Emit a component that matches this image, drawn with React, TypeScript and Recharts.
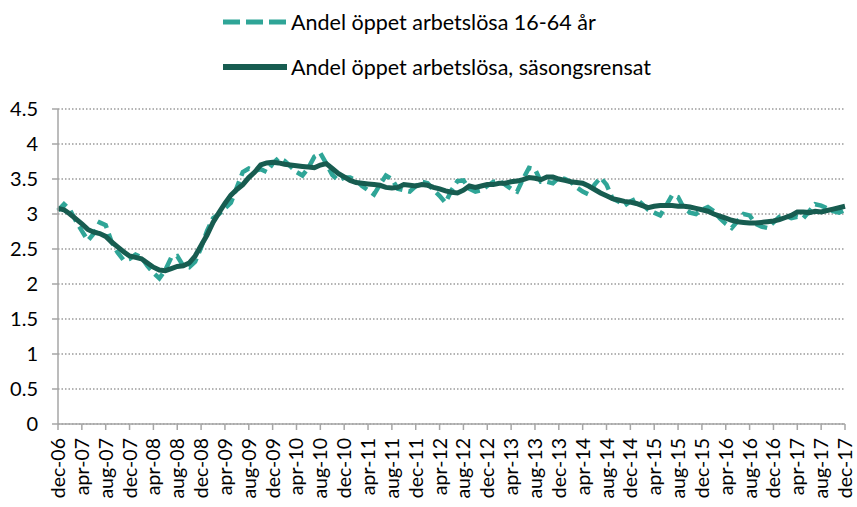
import { LineChart, Line, XAxis, YAxis, CartesianGrid } from 'recharts';

const monthNames = ['jan', 'feb', 'mar', 'apr', 'maj', 'jun', 'jul', 'aug', 'sep', 'okt', 'nov', 'dec'];

// dec-06 .. dec-17, monthly
const categories = Array.from({ length: 133 }, (_, i) => {
    const m = (i + 11) % 12;
    const y = 2006 + Math.floor((i + 11) / 12);
    return `${monthNames[m]}-${String(y).slice(2)}`;
});

const rawShare = [
    3.05, 3.14, 3.06, 2.90, 2.76, 2.62, 2.72, 2.88, 2.84, 2.60, 2.45, 2.34,
    2.36, 2.42, 2.38, 2.26, 2.16, 2.08, 2.20, 2.38, 2.40, 2.26, 2.24, 2.32,
    2.52, 2.76, 2.94, 3.00, 3.08, 3.16, 3.38, 3.60, 3.65, 3.62, 3.64, 3.60,
    3.72, 3.80, 3.76, 3.68, 3.60, 3.55, 3.66, 3.82, 3.87, 3.72, 3.56, 3.48,
    3.52, 3.52, 3.48, 3.40, 3.34, 3.28, 3.42, 3.55, 3.50, 3.36, 3.34, 3.32,
    3.40, 3.46, 3.44, 3.34, 3.26, 3.16, 3.34, 3.47, 3.48, 3.36, 3.32, 3.34,
    3.40, 3.46, 3.47, 3.42, 3.36, 3.32, 3.50, 3.66, 3.64, 3.46, 3.46, 3.44,
    3.52, 3.50, 3.46, 3.38, 3.32, 3.28, 3.42, 3.52, 3.42, 3.22, 3.18, 3.12,
    3.18, 3.22, 3.14, 3.06, 3.02, 2.98, 3.12, 3.27, 3.24, 3.08, 3.02, 3.00,
    3.06, 3.10, 3.04, 2.94, 2.86, 2.80, 2.90, 3.00, 2.98, 2.86, 2.82, 2.80,
    2.88, 2.96, 2.98, 2.94, 2.96, 2.94, 3.04, 3.14, 3.12, 3.08, 3.04, 3.02,
    3.06,
];

const seasonAdj = [
    3.08, 3.06, 3.00, 2.93, 2.86, 2.78, 2.74, 2.72, 2.68, 2.60, 2.53, 2.46,
    2.40, 2.38, 2.36, 2.30, 2.24, 2.20, 2.19, 2.22, 2.25, 2.26, 2.30, 2.40,
    2.55, 2.70, 2.88, 3.02, 3.15, 3.27, 3.35, 3.42, 3.52, 3.60, 3.70, 3.73,
    3.74, 3.73, 3.71, 3.70, 3.69, 3.68, 3.67, 3.66, 3.70, 3.72, 3.65, 3.58,
    3.53, 3.48, 3.45, 3.44, 3.43, 3.42, 3.41, 3.38, 3.37, 3.38, 3.42, 3.41,
    3.40, 3.42, 3.41, 3.38, 3.36, 3.33, 3.31, 3.30, 3.34, 3.40, 3.38, 3.40,
    3.42, 3.42, 3.44, 3.44, 3.46, 3.47, 3.49, 3.52, 3.51, 3.49, 3.53, 3.53,
    3.50, 3.48, 3.46, 3.45, 3.44, 3.40, 3.35, 3.30, 3.26, 3.22, 3.20, 3.18,
    3.17, 3.15, 3.12, 3.09, 3.11, 3.12, 3.12, 3.12, 3.11, 3.11, 3.10, 3.08,
    3.06, 3.04, 3.00, 2.97, 2.94, 2.91, 2.89, 2.88, 2.87, 2.87, 2.88, 2.89,
    2.90, 2.92, 2.95, 2.98, 3.03, 3.03, 3.02, 3.04, 3.03, 3.05, 3.07, 3.09,
    3.11,
];

const yTicks = [0, 0.5, 1, 1.5, 2, 2.5, 3, 3.5, 4, 4.5];

const seriesNames = ['Andel öppet arbetslösa 16-64 år', 'Andel öppet arbetslösa, säsongsrensat'];

const RAW_COLOR = '#2fa597';
const SA_COLOR = '#175c50';
const FONT = 'Lato, "Noto Sans", sans-serif';

const data = categories.map((label, i) => ({ label, raw: rawShare[i], sa: seasonAdj[i] }));

function XTick({ x, y, payload }: any) {
    return (
        <text x={0} y={0} transform={`translate(${x + 7},${y + 6}) rotate(-90)`} textAnchor="end" fill="#000" fontSize={19.5} fontFamily={FONT}>
            {payload.value}
        </text>
    );
}

function LegendRow({ top, dashed, color, text }: { top: number; dashed: boolean; color: string; text: string }) {
    return (
        <div style={{ position: 'absolute', left: 223, top, height: 26, display: 'flex', alignItems: 'center' }}>
            <svg width={64} height={8}>
                <line x1={0} y1={4} x2={64} y2={4} stroke={color} strokeWidth={dashed ? 5 : 6} strokeDasharray={dashed ? '17 6' : undefined} />
            </svg>
            <span style={{ marginLeft: 4, fontFamily: FONT, fontSize: 21.5, color: '#000', whiteSpace: 'nowrap' }}>{text}</span>
        </div>
    );
}

export default function App() {
    return (
        <div style={{ position: 'absolute', left: 0, top: 0, width: 857, height: 507, background: '#fff' }}>
            <LegendRow top={9} dashed color={RAW_COLOR} text={seriesNames[0]} />
            <LegendRow top={54} dashed={false} color={SA_COLOR} text={seriesNames[1]} />
            <LineChart width={857} height={507} data={data} margin={{ top: 109, right: 12, left: 0, bottom: 0 }}>
                <CartesianGrid vertical={false} stroke="#9a9a9a" strokeWidth={1.5} strokeDasharray="1.5 2" />
                <XAxis dataKey="label" interval={3} height={83} tickSize={6} tickMargin={2} tick={<XTick />} axisLine={{ stroke: '#a6a6a6', strokeWidth: 1.5 }} tickLine={{ stroke: '#a6a6a6', strokeWidth: 1.5 }} />
                <YAxis domain={[0, 4.5]} ticks={yTicks} width={58} tickSize={6} tickMargin={14} axisLine={{ stroke: '#a6a6a6', strokeWidth: 1.5 }} tickLine={{ stroke: '#a6a6a6', strokeWidth: 1.5 }} tick={{ fill: '#000', fontSize: 20, fontFamily: FONT }} />
                <Line type="linear" dataKey="raw" name={seriesNames[0]} stroke={RAW_COLOR} strokeWidth={4.5} strokeDasharray="12 6" dot={false} isAnimationActive={false} />
                <Line type="linear" dataKey="sa" name={seriesNames[1]} stroke={SA_COLOR} strokeWidth={5} dot={false} isAnimationActive={false} />
            </LineChart>
        </div>
    );
}
